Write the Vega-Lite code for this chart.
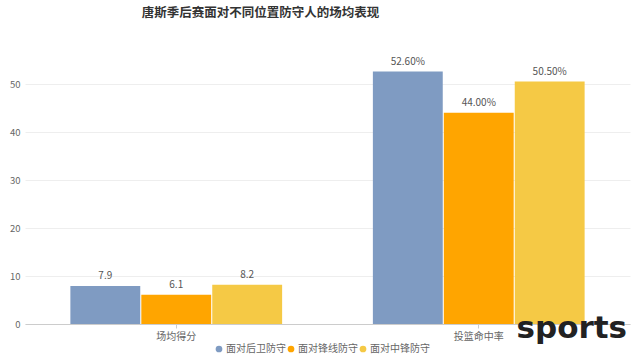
{
  "$schema": "https://vega.github.io/schema/vega-lite/v6.json",
  "autosize": {"type": "none"},
  "width": 605,
  "height": 264,
  "padding": {"left": 25, "top": 60, "right": 10, "bottom": 38},
  "background": "#ffffff",
  "config": {
    "font": "Noto Sans CJK SC",
    "view": {"stroke": null}
  },
  "title": {
    "text": "唐斯季后赛面对不同位置防守人的场均表现",
    "fontSize": 12.5,
    "fontWeight": "bold",
    "color": "#333333",
    "anchor": "middle",
    "dx": -67,
    "offset": 37,
    "font": "Noto Sans CJK SC"
  },
  "datasets": {
    "bars": [
      {"category": "场均得分", "series": "面对后卫防守", "value": 7.9, "label": "7.9"},
      {"category": "场均得分", "series": "面对锋线防守", "value": 6.1, "label": "6.1"},
      {"category": "场均得分", "series": "面对中锋防守", "value": 8.2, "label": "8.2"},
      {"category": "投篮命中率", "series": "面对后卫防守", "value": 52.6, "label": "52.60%"},
      {"category": "投篮命中率", "series": "面对锋线防守", "value": 44.0, "label": "44.00%"},
      {"category": "投篮命中率", "series": "面对中锋防守", "value": 50.5, "label": "50.50%"}
    ],
    "wm": [
      {"category": "投篮命中率", "value": 0, "wm": "sports"}
    ]
  },
  "layer": [
    {
      "data": {"name": "bars"},
      "mark": {"type": "bar"},
      "encoding": {
        "x": {
          "field": "category",
          "type": "nominal",
          "sort": ["场均得分", "投篮命中率"],
          "scale": {"paddingInner": 0.3, "paddingOuter": 0.15},
          "axis": {
            "title": null,
            "labelAngle": 0,
            "labelFontSize": 10,
            "labelColor": "#666666",
            "labelPadding": 3,
            "domainColor": "#cccccc",
            "tickColor": "#cccccc",
            "tickSize": 4,
            "grid": false
          }
        },
        "y": {
          "field": "value",
          "type": "quantitative",
          "scale": {"domain": [0, 55], "nice": false},
          "axis": {
            "title": null,
            "values": [0, 10, 20, 30, 40, 50],
            "labelFontSize": 9.5,
            "labelColor": "#666666",
            "labelPadding": 5,
            "domain": false,
            "ticks": false,
            "grid": true,
            "gridColor": "#eeeeee"
          }
        },
        "xOffset": {
          "field": "series",
          "type": "nominal",
          "sort": ["面对后卫防守", "面对锋线防守", "面对中锋防守"],
          "scale": {"paddingInner": 0.015}
        },
        "color": {
          "field": "series",
          "type": "nominal",
          "sort": ["面对后卫防守", "面对锋线防守", "面对中锋防守"],
          "scale": {
            "domain": ["面对后卫防守", "面对锋线防守", "面对中锋防守"],
            "range": ["#7f9bc2", "#ffa500", "#f5c945"]
          },
          "legend": {
            "title": null,
            "orient": "none",
            "direction": "horizontal",
            "legendX": 189,
            "legendY": 284,
            "symbolType": "circle",
            "symbolSize": 45,
            "labelFontSize": 10,
            "labelColor": "#666666",
            "columnPadding": 0,
            "symbolOffset": 0,
            "labelOffset": 2
          }
        }
      }
    },
    {
      "data": {"name": "bars"},
      "mark": {"type": "text", "dy": -5, "fontSize": 10, "color": "#555555", "baseline": "bottom"},
      "encoding": {
        "x": {"field": "category", "type": "nominal", "sort": ["场均得分", "投篮命中率"]},
        "y": {"field": "value", "type": "quantitative"},
        "xOffset": {"field": "series", "type": "nominal", "sort": ["面对后卫防守", "面对锋线防守", "面对中锋防守"]},
        "text": {"field": "label"}
      }
    },
    {
      "data": {"name": "wm"},
      "mark": {"type": "text", "fontSize": 31, "fontWeight": "bold", "color": "#222222", "font": "DejaVu Sans", "align": "center", "baseline": "middle", "dx": 93, "dy": 5},
      "encoding": {
        "x": {"field": "category", "type": "nominal", "sort": ["场均得分", "投篮命中率"], "bandPosition": 0.5},
        "y": {"field": "value", "type": "quantitative"},
        "text": {"field": "wm"}
      }
    }
  ]
}
